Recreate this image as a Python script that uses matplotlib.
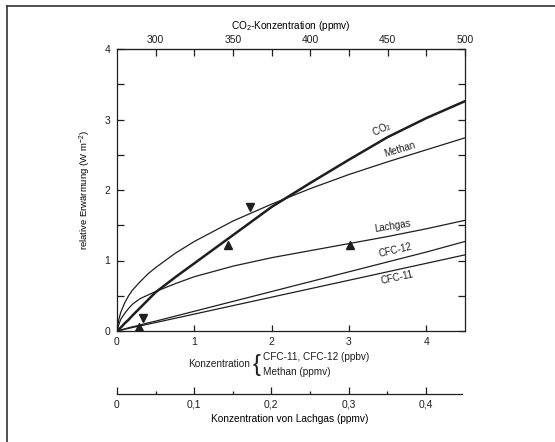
import matplotlib
matplotlib.use("Agg")
import matplotlib.pyplot as plt
from matplotlib.lines import Line2D

# concentration on the lower axis (CFC in ppbv, methane in ppmv)
conc = [0, 0.02, 0.05, 0.1, 0.15, 0.2, 0.3, 0.4, 0.5, 0.75, 1.0, 1.5, 2.0, 2.5, 3.0, 3.5, 4.0, 4.5]

# relative warming (W m-2)
co2 = [0, 0.02, 0.05, 0.11, 0.16, 0.22, 0.33, 0.44, 0.55, 0.76, 0.96, 1.36, 1.76, 2.10, 2.43, 2.75, 3.02, 3.26]
methan = [0, 0.15, 0.27, 0.40, 0.50, 0.58, 0.70, 0.81, 0.90, 1.10, 1.27, 1.56, 1.80, 2.02, 2.22, 2.40, 2.57, 2.74]
lachgas = [0, 0.08, 0.17, 0.25, 0.32, 0.38, 0.46, 0.51, 0.56, 0.67, 0.77, 0.92, 1.04, 1.14, 1.24, 1.34, 1.45, 1.57]
cfc12 = [0, 0.006, 0.015, 0.03, 0.045, 0.06, 0.085, 0.115, 0.14, 0.21, 0.28, 0.42, 0.56, 0.70, 0.84, 0.98, 1.12, 1.27]
cfc11 = [0, 0.005, 0.012, 0.025, 0.037, 0.05, 0.072, 0.097, 0.12, 0.18, 0.24, 0.36, 0.48, 0.60, 0.72, 0.84, 0.96, 1.08]

# triangle markers (x, y)
tri_up_x = [1.43, 3.01, 0.28]
tri_up_y = [1.22, 1.22, 0.05]
tri_down_x = [1.72, 0.34]
tri_down_y = [1.76, 0.19]

# curve labels: text, x, y, angle
labels = [("CO$_2$", 3.43, 2.86, 27),
          ("Methan", 3.66, 2.57, 17),
          ("Lachgas", 3.56, 1.49, 9),
          ("CFC-12", 3.60, 1.15, 13),
          ("CFC-11", 3.62, 0.76, 12)]

co2_ticks = [300, 350, 400, 450, 500]
lachgas_ticks = [0, 0.1, 0.2, 0.3, 0.4]
lachgas_ticklabels = ["0", "0,1", "0,2", "0,3", "0,4"]

ink = "#1e1e1e"
plt.rcParams["font.family"] = "Liberation Sans"
plt.rcParams["text.color"] = ink
plt.rcParams["axes.edgecolor"] = ink
plt.rcParams["xtick.color"] = ink
plt.rcParams["ytick.color"] = ink
plt.rcParams["mathtext.fontset"] = "custom"
plt.rcParams["mathtext.rm"] = "Liberation Sans"

W, H = 555, 442
fig = plt.figure(figsize=(W / 100, H / 100), dpi=100)

left, right, top, bottom = 117, 465, 49, 331
ax = fig.add_axes([left / W, 1 - bottom / H, (right - left) / W, (bottom - top) / H])

ax.plot(conc, co2, color=ink, lw=1.8, solid_capstyle="round")
for ys in (methan, lachgas, cfc12, cfc11):
    ax.plot(conc, ys, color=ink, lw=0.9)

ax.plot(tri_up_x, tri_up_y, "^", color=ink, ms=5.5, ls="none")
ax.plot(tri_down_x, tri_down_y, "v", color=ink, ms=5.5, ls="none")

for txt, x, y, ang in labels:
    ax.text(x, y, txt, rotation=ang, fontsize=7, ha="center", va="center")

ax.set_xlim(0, 4.5)
ax.set_ylim(0, 4)
ax.set_xticks([0, 1, 2, 3, 4])
ax.set_yticks([0, 1, 2, 3, 4])
ax.set_yticks([0.5, 1.5, 2.5, 3.5], minor=True)
ax.tick_params(which="both", direction="in", labelsize=7.5, width=0.9)
ax.tick_params(axis="y", which="both", right=True, length=5, pad=5)
ax.tick_params(axis="x", which="major", length=4, pad=4)
for s in ax.spines.values():
    s.set_linewidth(0.9)
ax.set_ylabel("relative Erwärmung (W m$^{-2}$)", fontsize=6.8, labelpad=8)

# CO2 scale on top
top_ax = ax.secondary_xaxis("top", functions=(lambda x: 275 + 50 * x, lambda c: (c - 275) / 50))
top_ax.set_xticks(co2_ticks)
top_ax.set_xticks([325, 375, 425, 475], minor=True)
top_ax.tick_params(which="both", direction="in", length=5, width=0.9, labelsize=7.5, pad=3)
top_ax.set_xlabel("CO$_2$-Konzentration (ppmv)", fontsize=7.2, labelpad=4)

# text under the lower axis
fig.text(250 / W, 1 - 364 / H, "Konzentration", fontsize=7.2, ha="right", va="center")
fig.text(257 / W, 1 - 365 / H, "{", fontsize=17, ha="center", va="center", fontweight="light")
fig.text(263 / W, 1 - 357 / H, "CFC-11, CFC-12 (ppbv)", fontsize=7.2, ha="left", va="center")
fig.text(263 / W, 1 - 372 / H, "Methan (ppmv)", fontsize=7.2, ha="left", va="center")

# separate scale for Lachgas
ax2 = fig.add_axes([left / W, 1 - 394 / H, (462 - left) / W, 0.001])
ax2.set_xlim(0, 4.47 / 10)
ax2.set_yticks([])
for name in ("left", "right", "top"):
    ax2.spines[name].set_visible(False)
ax2.spines["bottom"].set_linewidth(0.9)
ax2.set_xticks(lachgas_ticks)
ax2.set_xticklabels(lachgas_ticklabels)
ax2.set_xticks([0.05, 0.15, 0.25, 0.35], minor=True)
ax2.tick_params(which="major", direction="in", length=5, width=0.9, labelsize=7.5, pad=4)
ax2.tick_params(which="minor", direction="in", length=2.5, width=0.9)
ax2.patch.set_visible(False)
ax2.set_xlabel("Konzentration von Lachgas (ppmv)", fontsize=7.3, labelpad=3)

# page frame of the scan
fig.add_artist(Line2D([7 / W, 1], [1 - 6 / H, 1 - 6 / H], color="#333333", lw=1.2))
fig.add_artist(Line2D([7 / W, 7 / W], [0, 1 - 6 / H], color="#333333", lw=1.2))

fig.savefig("out.png", dpi=100)
